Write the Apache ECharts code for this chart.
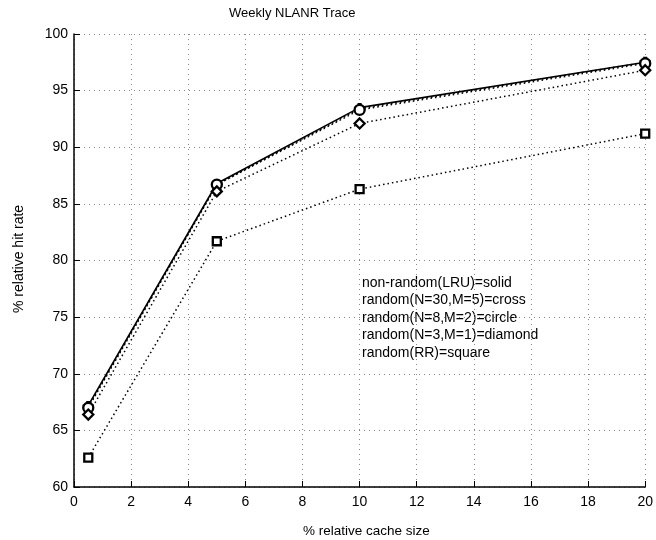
<!DOCTYPE html>
<html>
<head>
<meta charset="utf-8">
<script src="https://cdn.jsdelivr.net/npm/echarts@6/dist/echarts.min.js"></script>
<style>
  html, body { margin: 0; padding: 0; background: #fff; }
  #main { width: 656px; height: 540px; }
</style>
</head>
<body>
<div id="main"></div>
<script>
// cache sizes (% relative) on the x axis
const cacheSizes = [0.5, 5, 10, 20];

// hit rates
const lruSolid = [67.2, 86.8, 93.5, 97.5];
const randN30M5 = [67.1, 86.7, 93.4, 97.5];
const randN8M2 = [67.0, 86.7, 93.3, 97.4];
const randN3M1 = [66.4, 86.1, 92.1, 96.8];
const randRR = [62.6, 81.7, 86.3, 91.2];

const legendLines = [
    'non-random(LRU)=solid',
    'random(N=30,M=5)=cross',
    'random(N=8,M=2)=circle',
    'random(N=3,M=1)=diamond',
    'random(RR)=square'
];

const FONT = '"Liberation Sans", Arial, sans-serif';
const crossPath = 'path://M4,0 L6,0 L6,4 L10,4 L10,6 L6,6 L6,10 L4,10 L4,6 L0,6 L0,4 L4,4 Z';

const pairs = ys => cacheSizes.map((x, i) => [x, ys[i]]);

function dottedSeries(name, ys, symbol, size) {
    return {
        name: name,
        type: 'line',
        data: pairs(ys),
        symbol: symbol,
        symbolSize: size,
        showSymbol: true,
        lineStyle: { color: '#000', width: 1.5, type: [1.5, 3] },
        itemStyle: { color: '#fff', borderColor: '#000', borderWidth: 2.3 },
        animation: false
    };
}

const chart = echarts.init(document.getElementById('main'));

const option = {
    backgroundColor: '#fff',
    animation: false,
    grid: { left: 74, right: 9, top: 34, bottom: 53 },
    xAxis: {
        type: 'value',
        min: 0, max: 20, interval: 2,
        axisLine: { lineStyle: { color: '#000', width: 1.5 } },
        axisTick: { inside: true, length: 6, lineStyle: { color: '#000' } },
        axisLabel: { color: '#000', fontSize: 14, fontFamily: FONT, margin: 8 },
        splitLine: { show: true, lineStyle: { color: '#888', type: [1, 4] } }
    },
    yAxis: {
        type: 'value',
        min: 60, max: 100, interval: 5,
        axisLine: { show: true, lineStyle: { color: '#000', width: 1.5 } },
        axisTick: { show: true, inside: true, length: 6, lineStyle: { color: '#000' } },
        axisLabel: { color: '#000', fontSize: 14, fontFamily: FONT, margin: 6 },
        splitLine: { show: true, lineStyle: { color: '#888', type: [1, 4] } }
    },
    graphic: [
        {
            type: 'text', left: 229, top: 7,
            style: { text: 'Weekly NLANR Trace', fill: '#000', font: '13px ' + FONT }
        },
        {
            type: 'text', left: 303, top: 524,
            style: { text: '% relative cache size', fill: '#000', font: '13.5px ' + FONT }
        },
        {
            type: 'text', x: 12, y: 313, rotation: Math.PI / 2,
            style: { text: '% relative hit rate', fill: '#000', font: '14px ' + FONT }
        },
        ...legendLines.map((t, i) => ({
            type: 'text', left: 362, top: 276 + i * 17.5,
            style: { text: t, fill: '#000', font: '14px ' + FONT }
        }))
    ],
    series: [
        {
            name: 'LRU',
            type: 'line',
            data: pairs(lruSolid),
            symbol: 'none',
            lineStyle: { color: '#000', width: 1.6 }
        },
        dottedSeries('N30M5', randN30M5, crossPath, 9),
        dottedSeries('N8M2', randN8M2, 'circle', 10),
        dottedSeries('N3M1', randN3M1, 'diamond', 10),
        dottedSeries('RR', randRR, 'rect', 8)
    ]
};

chart.setOption(option);
</script>
</body>
</html>
